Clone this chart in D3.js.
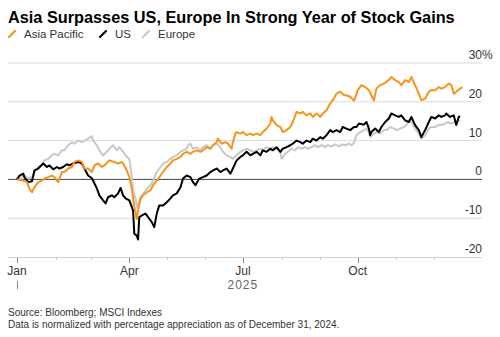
<!DOCTYPE html>
<html>
<head>
<meta charset="utf-8">
<script src="https://cdn.jsdelivr.net/npm/d3@7"></script>
<style>
  body { margin: 0; background: #fff; }
  svg { display: block; font-family: "Liberation Sans", Arial, sans-serif; }
</style>
</head>
<body>
<div id="chart"></div>
<script>
// day of 2025 (0 = Jan 1), percent change since Dec 31 2024
var asiaPacific = [[0,0],[5,-0.3],[8,-0.7],[10,-2.4],[12,-3.3],[14,-2],[17,-0.7],[20,-0.3],[22,0.2],[25,0.6],[28,1],[30,0.6],[33,-0.7],[36,1.9],[38,1.9],[41,2.8],[44,3.2],[46,4.5],[49,4.9],[52,4.5],[54,2.8],[57,2.8],[60,1.9],[62,3.6],[65,4.1],[68,3.2],[70,3.6],[74,4.9],[78,4.5],[81,4.1],[84,4.5],[86,3.6],[88,2.3],[90,0.6],[92,-2.4],[94,-7.1],[96,-10.2],[97,-8],[99,-5],[101,-4.1],[104,-3.3],[107,-2.8],[109,-1.5],[112,-0.3],[115,1],[117,1.9],[120,3.2],[123,4.1],[125,4.9],[128,5.3],[131,5.8],[133,6.6],[136,7.1],[139,6.6],[141,7.1],[144,7.5],[147,7.1],[149,7.5],[152,8.3],[155,7.9],[157,8.8],[160,9.6],[161,10.5],[164,9.2],[167,9.6],[169,9.2],[172,7.9],[173,9.6],[175,11.8],[176,12.2],[179,11.8],[181,12.2],[184,11.4],[187,11.8],[189,11.4],[192,11.8],[195,11.4],[197,12.2],[200,13.1],[203,14.4],[204,16.1],[205,15.2],[208,14],[211,13.5],[213,12.2],[216,12.7],[219,13.5],[221,14.8],[224,17.4],[227,17],[229,17.4],[232,16.5],[235,17],[237,16.1],[240,17],[243,16.1],[245,17],[248,17.8],[251,19.6],[253,20.4],[256,22.1],[259,22.6],[262,21.7],[264,21.7],[267,21.3],[270,20.3],[271,21],[273,23],[276,24.3],[279,23.8],[282,23],[284,21.7],[286,20.4],[288,23.4],[291,24.3],[294,24.7],[296,25.1],[299,26],[300,26.4],[303,25.6],[306,25.1],[308,24.3],[311,25.6],[314,25.1],[316,26.4],[319,24.3],[322,22.1],[324,20.4],[327,20.8],[330,22.6],[332,23],[335,23],[338,23.8],[340,23.4],[343,23.8],[346,24.7],[348,24.3],[350,22.1],[352,22.6],[355,23.4],[357,23.8]];

var us = [[0,0],[2,1],[5,1.5],[6,0.5],[9,-0.7],[12,-0.5],[14,2.3],[17,2.8],[21,4.1],[24,3.2],[26,3.6],[29,2.6],[32,3.2],[34,2.8],[37,3.2],[40,3.9],[42,3.6],[45,4.1],[49,4.5],[52,4.1],[54,2.8],[57,1],[60,0.3],[62,-1],[64,-2.3],[66,-4.1],[69,-5.4],[71,-6.2],[73,-4.6],[76,-4.1],[78,-4.6],[81,-3.6],[83,-2.2],[85,-4.1],[87,-4.9],[90,-5.4],[93,-8],[94,-14],[96,-14.5],[97,-15.5],[98,-9.7],[100,-9.3],[103,-8.8],[105,-9.7],[108,-11],[110,-12.3],[112,-8.8],[114,-6.7],[117,-6.7],[120,-5.9],[123,-4.9],[125,-4.1],[128,-3.6],[131,-2],[133,0.2],[136,1],[139,0.6],[141,-0.7],[143,-1.5],[146,0.2],[149,0.6],[152,1],[155,1.9],[157,2.3],[160,2.8],[163,1.9],[165,2.3],[168,2.8],[171,1.5],[173,2.8],[176,4.9],[179,5.8],[181,6.2],[184,7.1],[187,6.2],[189,6.6],[192,7.1],[195,6.2],[197,7.5],[200,7.1],[203,7.9],[205,7.5],[208,8.3],[211,7.1],[213,7.9],[216,8.3],[219,8.8],[221,9.2],[224,10],[227,9.6],[229,9.2],[232,10],[235,9.6],[237,10.5],[240,10],[243,10.9],[245,10.5],[248,11.4],[251,12.7],[253,12.2],[256,12.7],[259,12.2],[261,13.5],[264,13.1],[267,12.7],[270,13.5],[272,13.5],[274,14.4],[278,14.1],[280,14.8],[282,13.1],[283,11.4],[284,12.2],[287,13.1],[290,12.2],[292,13.5],[295,14.8],[298,15.7],[300,17],[303,16.5],[306,16.1],[308,16.5],[311,15.2],[314,14.8],[316,16.1],[319,14],[322,12.7],[324,10.9],[327,12.7],[330,14.8],[332,16.1],[335,15.7],[338,16.5],[340,16.1],[343,16.5],[344,17],[347,16.1],[350,16.5],[352,14],[354,16.1],[355,16.3]];

var europe = [[0,0],[4,0.6],[6,1],[9,0.2],[12,0.6],[14,1.9],[17,3.2],[20,3.6],[22,4.9],[25,5.3],[28,6.2],[30,6.6],[33,6.2],[36,7.5],[38,7.5],[41,8.8],[44,9.6],[46,9.2],[49,10],[52,9.6],[54,10],[57,10.5],[60,11.2],[61,10],[64,8.8],[66,7.5],[69,6.2],[72,7.1],[74,7.9],[77,8.8],[80,7.5],[82,8.3],[85,7.1],[88,5.8],[90,5.3],[91,3.2],[92,0.6],[93,-2.8],[95,-5],[96,-7.1],[99,-4.6],[101,-3.7],[104,-2.4],[107,-1.5],[109,-0.3],[112,1.9],[115,3.2],[117,4.1],[120,4.5],[123,5.3],[125,5.8],[128,6.2],[131,7.1],[133,7.5],[136,7.9],[137,8.8],[139,9.2],[141,7.9],[144,8.3],[147,7.5],[149,8.3],[152,8.8],[155,7.9],[157,8.8],[160,9.2],[163,8.3],[165,7.1],[168,6.2],[171,5.8],[173,5.3],[176,6.2],[179,7.1],[181,7.5],[184,7.9],[187,7.5],[189,7.1],[192,7.5],[195,7.9],[197,7.5],[200,8.3],[203,7.9],[205,8.3],[208,7.9],[211,7.1],[212,5.3],[215,6.6],[217,7.1],[220,7.9],[223,7.5],[225,8.3],[228,7.9],[231,8.3],[233,7.9],[236,8.3],[239,8.8],[241,8.3],[244,8.8],[247,8.3],[249,8.8],[252,8.5],[255,9],[258,8.5],[260,9],[263,8.8],[266,9.2],[268,8.8],[270,9.4],[272,11.4],[275,12.2],[278,12.7],[280,13.1],[282,12.2],[283,10.9],[286,11.8],[288,12.2],[291,11.8],[294,12.7],[296,12.7],[299,13.5],[302,13.1],[304,12.7],[307,13.1],[310,13.5],[312,14],[314,15.2],[316,14.8],[319,13.1],[322,11.8],[324,10.5],[327,11.4],[330,13.1],[332,13.5],[335,13.5],[338,14],[340,14],[343,14.4],[345,14.8],[348,14.4],[351,14.8],[355,15.2]];

var yTicks = [-20, -10, 0, 10, 20, 30];
var xMajorLabels = ["Jan", "Apr", "Jul", "Oct"];
var legendNames = ["Asia Pacific", "US", "Europe"];
var legendColors = ["#f7941e", "#000000", "#c8c8c8"];

var width = 500, height = 337;
var left = 8, right = 482;

var svg = d3.select("#chart")
  .append("svg")
  .attr("width", width)
  .attr("height", height);

var start = new Date(2025, 0, 1);
function toDate(day) { return d3.timeDay.offset(start, day); }

var xScale = d3.scaleTime()
  .domain([start, new Date(2026, 0, 1)])
  .range([17, 472.5]);

var yScale = d3.scaleLinear()
  .domain([-20, 30])
  .range([257, 63]);

// title + legend
svg.append("text")
  .attr("x", 8)
  .attr("y", 23)
  .attr("font-size", 16.3)
  .attr("font-weight", "bold")
  .attr("fill", "#000")
  .text("Asia Surpasses US, Europe In Strong Year of Stock Gains");

var legendX = [9, 100, 143];
var legend = svg.selectAll(".legend")
  .data(legendNames)
  .enter().append("g")
  .attr("class", "legend")
  .attr("transform", function(d, i) { return "translate(" + legendX[i] + ",0)"; });

legend.append("line")
  .attr("x1", 0).attr("y1", 37)
  .attr("x2", 6).attr("y2", 31)
  .attr("stroke", function(d, i) { return legendColors[i]; })
  .attr("stroke-width", 2.2)
  .attr("stroke-linecap", "round");

legend.append("text")
  .attr("x", 15)
  .attr("y", 38)
  .attr("font-size", 11.5)
  .attr("fill", "#333")
  .text(function(d) { return d; });

// gridlines
svg.selectAll(".grid")
  .data(yTicks.filter(function(d) { return d !== 0 && d !== -20; }))
  .enter().append("line")
  .attr("class", "grid")
  .attr("x1", left).attr("x2", right)
  .attr("y1", function(d) { return yScale(d); })
  .attr("y2", function(d) { return yScale(d); })
  .attr("stroke", "#dcdcdc")
  .attr("stroke-width", 1);

// y labels
svg.selectAll(".ylabel")
  .data(yTicks)
  .enter().append("text")
  .attr("class", "ylabel")
  .attr("x", right)
  .attr("y", function(d) { return yScale(d) - 4; })
  .attr("text-anchor", "end")
  .attr("font-size", 12)
  .attr("fill", "#333")
  .text(function(d) { return d; });

svg.append("text")
  .attr("x", right)
  .attr("y", yScale(30) - 4)
  .attr("font-size", 12)
  .attr("fill", "#333")
  .text("%");

// x axis
var months = d3.timeMonth.range(start, new Date(2025, 11, 2));
svg.append("line")
  .attr("x1", left).attr("x2", right)
  .attr("y1", 257.5).attr("y2", 257.5)
  .attr("stroke", "#d0d0d0");

svg.selectAll(".xtick")
  .data(months)
  .enter().append("line")
  .attr("class", "xtick")
  .attr("x1", function(d) { return Math.round(xScale(d)) + 0.5; })
  .attr("x2", function(d) { return Math.round(xScale(d)) + 0.5; })
  .attr("y1", 258)
  .attr("y2", function(d) { return d.getMonth() % 3 === 0 ? 263 : 260; })
  .attr("stroke", function(d) { return d.getMonth() % 3 === 0 ? "#888" : "#ccc"; });

svg.selectAll(".xlabel")
  .data(xMajorLabels)
  .enter().append("text")
  .attr("class", "xlabel")
  .attr("x", function(d, i) { return xScale(new Date(2025, i * 3, 1)); })
  .attr("y", 275)
  .attr("text-anchor", "middle")
  .attr("font-size", 12)
  .attr("fill", "#333")
  .text(function(d) { return d; });

svg.append("line")
  .attr("x1", Math.round(xScale(start)) + 0.5)
  .attr("x2", Math.round(xScale(start)) + 0.5)
  .attr("y1", 281).attr("y2", 289)
  .attr("stroke", "#888");

svg.append("text")
  .attr("x", xScale(new Date(2025, 6, 1)))
  .attr("y", 289)
  .attr("text-anchor", "middle")
  .attr("font-size", 12)
  .attr("letter-spacing", 1)
  .attr("fill", "#666")
  .text("2025");

// series
var line = d3.line()
  .x(function(d) { return xScale(toDate(d[0])); })
  .y(function(d) { return yScale(d[1]); });

var series = [
  { values: europe, color: legendColors[2] },
  { values: us, color: legendColors[1] },
  { values: asiaPacific, color: legendColors[0] }
];

// zero line
svg.append("line")
  .attr("x1", left).attr("x2", right)
  .attr("y1", yScale(0)).attr("y2", yScale(0))
  .attr("stroke", "#444")
  .attr("stroke-width", 1);

svg.selectAll(".series")
  .data(series)
  .enter().append("path")
  .attr("class", "series")
  .attr("d", function(d) { return line(d.values); })
  .attr("fill", "none")
  .attr("stroke", function(d) { return d.color; })
  .attr("stroke-width", 2)
  .attr("stroke-linejoin", "round");

// footer
svg.append("text")
  .attr("x", 8).attr("y", 316)
  .attr("font-size", 10)
  .attr("fill", "#333")
  .text("Source: Bloomberg; MSCI Indexes");

svg.append("text")
  .attr("x", 8).attr("y", 328)
  .attr("font-size", 10)
  .attr("fill", "#333")
  .text("Data is normalized with percentage appreciation as of December 31, 2024.");
</script>
</body>
</html>
